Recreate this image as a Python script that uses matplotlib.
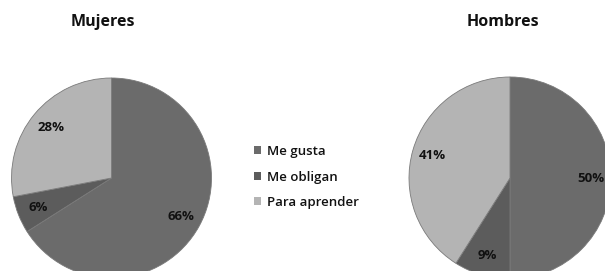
import matplotlib
matplotlib.use("Agg")
import matplotlib.pyplot as plt
from matplotlib.patches import Patch

categories = ["Me gusta", "Me obligan", "Para aprender"]
mujeres = [66, 6, 28]
hombres = [50, 9, 41]
titles = ["Mujeres", "Hombres"]
colors = ["#6b6b6b", "#5c5c5c", "#b4b4b4"]

W, H = 605, 271
fig = plt.figure(figsize=(W / 100, H / 100), dpi=100)
ax = fig.add_axes([0, 0, 1, 1])
ax.set_xlim(0, W)
ax.set_ylim(0, H)
ax.set_aspect("equal")
ax.axis("off")

font = "Open Sans"
pies = [(mujeres, (111.5, H - 178), 100, 0.79), (hombres, (510, H - 178), 101, 0.80)]
for vals, center, r, pd in pies:
    wedges, texts, autotexts = ax.pie(
        vals, colors=colors, startangle=90, counterclock=False,
        center=center, radius=r, autopct="%d%%", pctdistance=pd,
        wedgeprops=dict(linewidth=0.6, edgecolor="#7a7a7a"),
        textprops=dict(fontsize=9.5, fontweight="bold", color="#111111", family=font),
        frame=True)
ax.set_xlim(0, W)
ax.set_ylim(0, H)
ax.axis("off")

ax.text(103, H - 22, titles[0], ha="center", va="center", fontsize=11.5,
        fontweight="bold", family=font, color="#111111")
ax.text(503, H - 22, titles[1], ha="center", va="center", fontsize=11.5,
        fontweight="bold", family=font, color="#111111")

handles = [Patch(facecolor=c, edgecolor="none") for c in colors]
fig.legend(handles, categories, loc="center left", bbox_to_anchor=(254 / W, 1 - 177 / H),
           frameon=False, prop=dict(family=font, size=9.5, weight="semibold"),
           handlelength=0.55, handleheight=0.55, handletextpad=0.45, labelspacing=0.95,
           borderpad=0, borderaxespad=0, labelcolor="#111111")

fig.savefig("out.png", dpi=100)
